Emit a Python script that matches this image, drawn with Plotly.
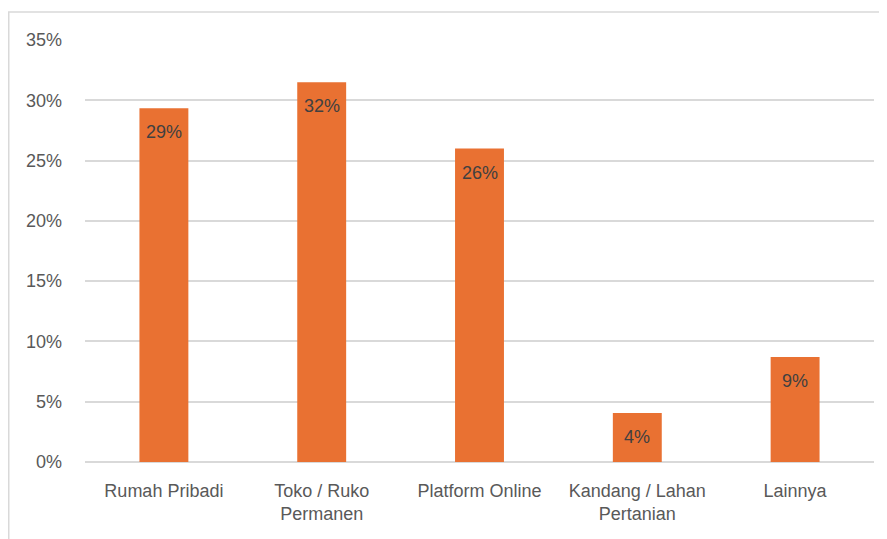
import plotly.graph_objects as go

categories = ["Rumah Pribadi", "Toko / Ruko<br>Permanen", "Platform Online",
              "Kandang / Lahan<br>Pertanian", "Lainnya"]
values = [0.2933, 0.315, 0.260, 0.0406, 0.087]
tick_vals = [0, 0.05, 0.10, 0.15, 0.20, 0.25, 0.30, 0.35]
tick_text = ["0%", "5%", "10%", "15%", "20%", "25%", "30%", "35%"]

# page body has an 8px margin, so the figure is placed at (8, 8)
W, H = 879, 531
ml, mr, mt, mb = 77, 13, 32, 77
pw = W - ml - mr
ph = H - mt - mb

FONT = "Liberation Sans, Arial"

fig = go.Figure(go.Bar(
    x=categories, y=values,
    marker=dict(color="#E97132", line=dict(width=0)),
    hoverinfo="x+y",
))

for c, v in zip(categories, values):
    fig.add_annotation(x=c, y=v, xref="x", yref="y", text=f"{round(v*100):.0f}%",
                       showarrow=False, yanchor="top", yshift=-12,
                       font=dict(color="#404040", size=18, family=FONT))

def px(x):
    return (x - ml) / pw

def py(y):
    return 1 - (y - mt) / ph

fig.update_layout(
    width=W, height=H,
    margin=dict(l=ml, r=mr, t=mt, b=mb),
    plot_bgcolor="white", paper_bgcolor="white",
    bargap=0.69,
    showlegend=False,
    font=dict(family=FONT, color="#595959", size=18),
    xaxis=dict(showgrid=False, showline=False, ticks="", ticklabelstandoff=16,
               tickfont=dict(size=18, color="#595959")),
    yaxis=dict(range=[0, 0.35], tickvals=tick_vals, ticktext=tick_text,
               showgrid=True, gridcolor="#d9d9d9", gridwidth=1.5,
               zeroline=True, zerolinecolor="#d9d9d9", zerolinewidth=1.5,
               showline=False, ticks="", ticklabelstandoff=22,
               tickfont=dict(size=18, color="#595959")),
    shapes=[
        dict(type="line", xref="paper", yref="paper", x0=px(0), x1=px(W), y0=py(4), y1=py(4),
             line=dict(color="#d9d9d9", width=1.5)),
        dict(type="line", xref="paper", yref="paper", x0=px(0.75), x1=px(0.75), y0=py(4), y1=py(H),
             line=dict(color="#d9d9d9", width=1.5)),
    ],
)

fig.write_html("out.html")
